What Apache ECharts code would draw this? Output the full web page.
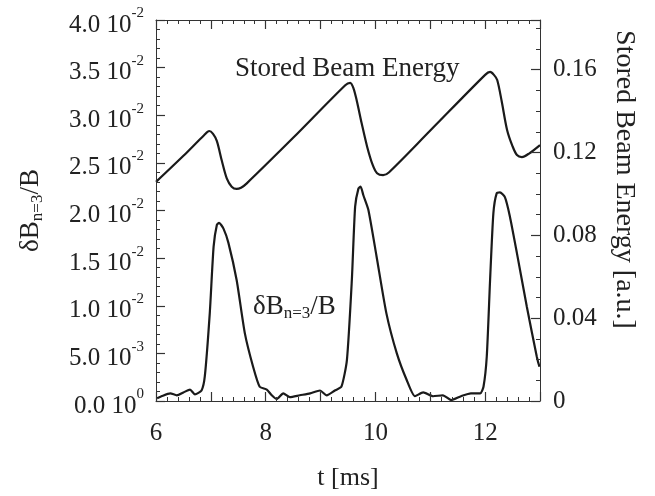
<!DOCTYPE html>
<html>
<head>
<meta charset="utf-8">
<script src="https://cdn.jsdelivr.net/npm/echarts@6/dist/echarts.min.js"></script>
<style>
  html, body { margin: 0; padding: 0; background: #fff; }
  #chart { width: 655px; height: 496px; }
</style>
</head>
<body>
<div id="chart"></div>
<script>
// stored beam energy [a.u.], right axis
const timeBeam = [6.0, 6.5, 6.88, 6.97, 7.04, 7.11, 7.2, 7.29, 7.38, 7.47, 7.55, 7.65, 8.5, 9.45, 9.54, 9.6, 9.66, 9.75, 9.85, 9.95, 10.03, 10.14, 10.25, 11.0, 12.0, 12.09, 12.16, 12.22, 12.3, 12.4, 12.5, 12.58, 12.67, 12.8, 13.0];
const beamEnergy = [0.1058, 0.1184, 0.1285, 0.1304, 0.129, 0.1255, 0.116, 0.1075, 0.1035, 0.1024, 0.103, 0.105, 0.1271, 0.1525, 0.1536, 0.151, 0.145, 0.134, 0.1227, 0.114, 0.11, 0.1091, 0.1105, 0.1306, 0.1575, 0.1589, 0.1575, 0.155, 0.145, 0.1309, 0.123, 0.1188, 0.1178, 0.1195, 0.1236];

// dB(n=3)/B, left axis
const timeDB = [6.02, 6.1, 6.26, 6.38, 6.5, 6.62, 6.71, 6.83, 6.89, 6.98, 7.05, 7.11, 7.15, 7.23, 7.32, 7.47, 7.62, 7.77, 7.89, 8.02, 8.11, 8.2, 8.32, 8.44, 8.62, 8.81, 8.99, 9.11, 9.26, 9.38, 9.48, 9.57, 9.63, 9.69, 9.73, 9.78, 9.87, 10.02, 10.2, 10.39, 10.57, 10.72, 10.87, 11.05, 11.23, 11.38, 11.56, 11.74, 11.91, 11.97, 12.03, 12.09, 12.15, 12.21, 12.27, 12.36, 12.45, 12.58, 12.76, 12.94, 12.99];
const deltaB = [0.0003, 0.0005, 0.0008, 0.0006, 0.0009, 0.0012, 0.0007, 0.0011, 0.0026, 0.0092, 0.0162, 0.0185, 0.0187, 0.0181, 0.0166, 0.0127, 0.0071, 0.0036, 0.0015, 0.0012, 0.0006, 0.0002, 0.0008, 0.0004, 0.0006, 0.0008, 0.0011, 0.0006, 0.0011, 0.0015, 0.0043, 0.0127, 0.0204, 0.0223, 0.0225, 0.0216, 0.0201, 0.0152, 0.0092, 0.005, 0.0022, 0.0005, 0.0009, 0.0005, 0.0006, 0.0001, 0.0005, 0.0008, 0.0008, 0.0015, 0.0047, 0.0127, 0.0197, 0.0218, 0.0219, 0.0214, 0.0194, 0.0155, 0.0099, 0.0047, 0.0036];

const xTicks = [6, 8, 10, 12];
const rightTicks = [0, 0.04, 0.08, 0.12, 0.16];

const zip = (xs, ys) => xs.map((x, i) => [x, ys[i]]);

const serif = 'Liberation Serif';
const ink = '#222';
const frame = '#333';

function leftLabel(v) {
  if (v === 0) return '{a|0.0 10}{s|0}';
  const e = v < 0.01 - 1e-9 ? -3 : -2;
  const m = (v / Math.pow(10, e)).toFixed(1);
  return '{a|' + m + ' 10}{s|' + e + '}';
}

function rightLabel(v) {
  const hit = rightTicks.find(t => Math.abs(t - v) < 1e-6);
  if (hit === undefined) return '';
  return hit === 0 ? '0' : hit.toFixed(2);
}

// box frame with inward ticks on every side
function axisStyle(minorSplit) {
  return {
    z: 10,
    axisLine: { show: true, onZero: false, lineStyle: { color: frame, width: 1 } },
    axisTick: { show: true, inside: true, length: 9, lineStyle: { color: frame, width: 1.2 } },
    minorTick: { show: true, splitNumber: minorSplit, length: 4, lineStyle: { color: frame, width: 1 } },
    splitLine: { show: false }
  };
}

const dbRich = {
  m: { fontFamily: serif, fontSize: 27, color: ink, lineHeight: 30 },
  b: { fontFamily: serif, fontSize: 17, color: ink, verticalAlign: 'bottom', lineHeight: 14 }
};

const chart = echarts.init(document.getElementById('chart'));
chart.setOption({
  animation: false,
  title: [
    {
      text: 'Stored Beam Energy', left: 235, top: 55, padding: 0,
      textStyle: { fontFamily: serif, fontSize: 27, fontWeight: 'normal', color: ink }
    },
    {
      text: '{m|δB}{b|n=3}{m|/B}', left: 253, top: 292, padding: 0,
      textStyle: { fontWeight: 'normal', rich: dbRich }
    }
  ],
  grid: { left: 156, right: 115, top: 20, bottom: 95 },
  xAxis: [
    Object.assign({
      type: 'value', min: 6, max: 13, interval: 1, position: 'bottom',
      name: 't [ms]', nameLocation: 'middle', nameGap: 64,
      nameTextStyle: { fontFamily: serif, fontSize: 26, color: ink },
      axisLabel: {
        margin: 20, fontFamily: serif, fontSize: 25, color: ink,
        formatter: v => xTicks.indexOf(v) >= 0 ? String(v) : ''
      }
    }, axisStyle(5)),
    Object.assign({
      type: 'value', min: 6, max: 13, interval: 1, position: 'top',
      axisLabel: { show: false }
    }, axisStyle(5))
  ],
  yAxis: [
    Object.assign({
      type: 'value', min: 0, max: 0.04, interval: 0.005, position: 'left',
      name: '{m|δB}{b|n=3}{m|/B}', nameLocation: 'middle', nameRotate: 90, nameGap: 110,
      nameTextStyle: { rich: dbRich },
      axisLabel: {
        margin: 12, color: ink, formatter: leftLabel,
        rich: {
          a: { fontFamily: serif, fontSize: 25, color: ink, lineHeight: 28, padding: [10, 0, 0, 0] },
          s: { fontFamily: serif, fontSize: 15, color: ink, verticalAlign: 'top', lineHeight: 16 }
        }
      }
    }, axisStyle(5)),
    Object.assign({
      type: 'value', min: 0, max: 0.184, interval: 0.04, position: 'right',
      name: 'Stored Beam Energy [a.u.]', nameLocation: 'middle', nameRotate: -90, nameGap: 70,
      nameTextStyle: { fontFamily: serif, fontSize: 28, color: ink, padding: [0, 62, 0, 0] },
      axisLabel: {
        margin: 13, fontFamily: serif, fontSize: 25, color: ink,
        formatter: rightLabel
      }
    }, axisStyle(4))
  ],
  series: [
    {
      name: 'Stored Beam Energy', type: 'line', xAxisIndex: 1, yAxisIndex: 1,
      data: zip(timeBeam, beamEnergy), smooth: 0.3, showSymbol: false,
      lineStyle: { color: '#1a1a1a', width: 2.2 }
    },
    {
      name: 'dB/B', type: 'line', xAxisIndex: 0, yAxisIndex: 0,
      data: zip(timeDB, deltaB), smooth: 0.2, showSymbol: false,
      lineStyle: { color: '#1a1a1a', width: 2.2 }
    }
  ]
});
</script>
</body>
</html>
